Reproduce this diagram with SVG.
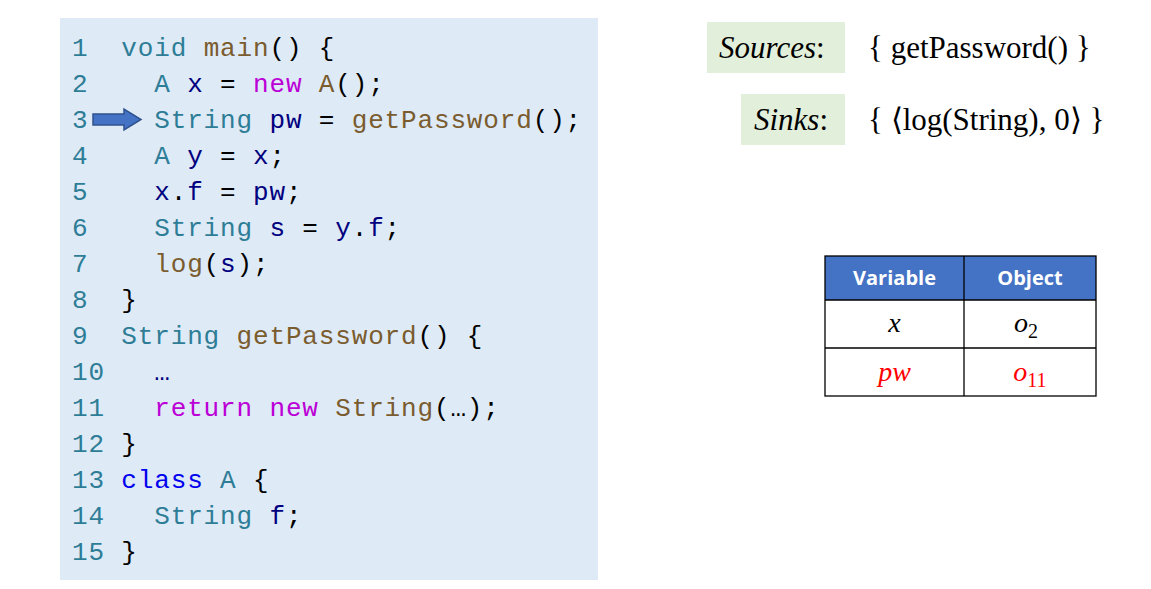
<svg xmlns="http://www.w3.org/2000/svg" width="1151" height="589" viewBox="0 0 1151 589">
<style>
.code{font-family:"Liberation Mono",monospace;font-size:26px;letter-spacing:0.85px;white-space:pre}
.n{fill:#2E7D96}.t{fill:#2E7D96}.f{fill:#7A5C2E}.v{fill:#00007F}.k{fill:#BB00D6}.b{fill:#0000EE}.p{fill:#000}
.ser{font-family:"Liberation Serif",serif;font-size:31px;fill:#000}
.hd{font-family:"Open Sans",sans-serif;font-weight:bold;font-size:20px;fill:#fff;text-anchor:middle}
.m{font-family:"Liberation Serif",serif;font-style:italic;font-size:28px;text-anchor:middle}
</style>
<rect width="1151" height="589" fill="#fff"/>
<g id="code">
<rect x="60" y="18" width="538" height="562" fill="#DEEAF6"/>
<text class="code" xml:space="preserve">
<tspan x="72" y="56"><tspan class="n">1  </tspan><tspan class="t">void </tspan><tspan class="f">main</tspan><tspan class="p">() {</tspan></tspan>
<tspan x="72" y="92"><tspan class="n">2    </tspan><tspan class="t">A </tspan><tspan class="v">x </tspan><tspan class="p">= </tspan><tspan class="k">new </tspan><tspan class="f">A</tspan><tspan class="p">();</tspan></tspan>
<tspan x="72" y="128"><tspan class="n">3    </tspan><tspan class="t">String </tspan><tspan class="v">pw </tspan><tspan class="p">= </tspan><tspan class="f">getPassword</tspan><tspan class="p">();</tspan></tspan>
<tspan x="72" y="164"><tspan class="n">4    </tspan><tspan class="t">A </tspan><tspan class="v">y </tspan><tspan class="p">= </tspan><tspan class="v">x</tspan><tspan class="p">;</tspan></tspan>
<tspan x="72" y="200"><tspan class="n">5    </tspan><tspan class="v">x</tspan><tspan class="p">.</tspan><tspan class="v">f </tspan><tspan class="p">= </tspan><tspan class="v">pw</tspan><tspan class="p">;</tspan></tspan>
<tspan x="72" y="236"><tspan class="n">6    </tspan><tspan class="t">String </tspan><tspan class="v">s </tspan><tspan class="p">= </tspan><tspan class="v">y</tspan><tspan class="p">.</tspan><tspan class="v">f</tspan><tspan class="p">;</tspan></tspan>
<tspan x="72" y="272"><tspan class="n">7    </tspan><tspan class="f">log</tspan><tspan class="p">(</tspan><tspan class="v">s</tspan><tspan class="p">);</tspan></tspan>
<tspan x="72" y="308"><tspan class="n">8  </tspan><tspan class="p">}</tspan></tspan>
<tspan x="72" y="344"><tspan class="n">9  </tspan><tspan class="t">String </tspan><tspan class="f">getPassword</tspan><tspan class="p">() {</tspan></tspan>
<tspan x="72" y="380"><tspan class="n">10   </tspan><tspan class="v">…</tspan></tspan>
<tspan x="72" y="416"><tspan class="n">11   </tspan><tspan class="k">return new </tspan><tspan class="f">String</tspan><tspan class="p">(…);</tspan></tspan>
<tspan x="72" y="452"><tspan class="n">12 </tspan><tspan class="p">}</tspan></tspan>
<tspan x="72" y="488"><tspan class="n">13 </tspan><tspan class="b">class </tspan><tspan class="t">A </tspan><tspan class="p">{</tspan></tspan>
<tspan x="72" y="524"><tspan class="n">14   </tspan><tspan class="t">String </tspan><tspan class="v">f</tspan><tspan class="p">;</tspan></tspan>
<tspan x="72" y="560"><tspan class="n">15 </tspan><tspan class="p">}</tspan></tspan>
</text>
<path d="M93,114 H124 V109 L141,119.5 L124,130 V125 H93 Z" fill="#4472C4" stroke="#2F528F" stroke-width="1.5"/>
</g>
<g id="sources">
<rect x="707" y="22" width="138" height="51" fill="#E2EFDA"/>
<text class="ser" x="719" y="58"><tspan font-style="italic">Sources</tspan>:</text>
<text class="ser" x="868" y="58">{ getPassword() }</text>
</g>
<g id="sinks">
<rect x="741" y="94" width="104" height="51" fill="#E2EFDA"/>
<text class="ser" x="754" y="130"><tspan font-style="italic">Sinks</tspan>:</text>
<text class="ser" x="868" y="130">{ ⟨log(String), 0⟩ }</text>
</g>
<g id="table">
<rect x="825" y="256" width="271" height="44" fill="#4472C4"/>
<text class="hd" x="894.5" y="285">Variable</text>
<text class="hd" x="1030" y="285">Object</text>
<g stroke="#000" stroke-width="1.3" fill="none">
<rect x="825" y="256" width="271" height="140"/>
<line x1="825" y1="300" x2="1096" y2="300"/>
<line x1="825" y1="348" x2="1096" y2="348"/>
<line x1="964" y1="256" x2="964" y2="396"/>
</g>
<text class="m" x="894.5" y="332">x</text>
<text class="m" x="1026" y="332">o<tspan font-style="normal" font-size="20" dy="6">2</tspan></text>
<text class="m" x="894.5" y="381" fill="#FF0000">pw</text>
<text class="m" x="1030" y="381" fill="#FF0000">o<tspan font-style="normal" font-size="20" dy="6">11</tspan></text>
</g>
</svg>
